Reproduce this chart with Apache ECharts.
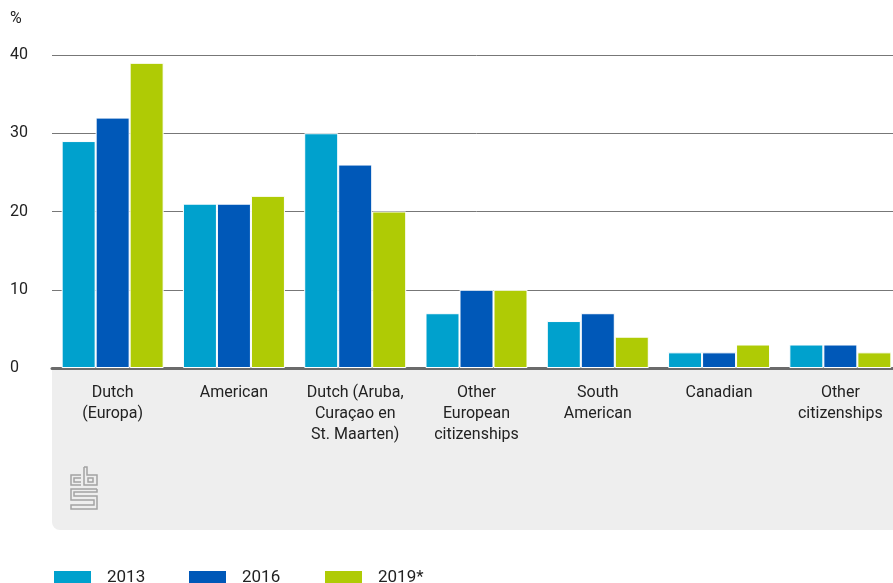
<!DOCTYPE html>
<html>
<head>
<meta charset="utf-8">
<script src="https://cdn.jsdelivr.net/npm/echarts@6/dist/echarts.min.js"></script>
<style>
html,body{margin:0;padding:0;background:#fff;overflow:hidden;width:893px;height:583px;}
#chart{width:901px;height:583px;}
</style>
</head>
<body>
<div id="chart"></div>
<script>
const categories = ["Dutch\n(Europa)", "American", "Dutch (Aruba,\nCuraçao en\nSt. Maarten)", "Other\nEuropean\ncitizenships", "South\nAmerican", "Canadian", "Other\ncitizenships"];
const seriesNames = ["2013", "2016", "2019*"];
const values2013 = [29, 21, 30, 7, 6, 2, 3];
const values2016 = [32, 21, 26, 10, 7, 2, 3];
const values2019 = [39, 22, 20, 10, 4, 3, 2];
const yTicks = [0, 10, 20, 30, 40];

const colors = ["#00a1cd", "#0058b8", "#afcb05"];
const font = "Roboto, 'Liberation Sans', sans-serif";
const chart = echarts.init(document.getElementById('chart'));

function legendFor(i, left) {
  return {
    data: [seriesNames[i]], left: left, top: 569, padding: 0, itemWidth: 39, itemHeight: 15,
    itemGap: 0, icon: 'rect', selectedMode: false,
    textStyle: { fontFamily: font, fontSize: 17, color: '#222', padding: [4, 0, 0, 10] }
  };
}

const logoStyle = { stroke: '#a3a3a3', lineWidth: 1.5, fill: null };
chart.setOption({
  animation: false,
  color: colors,
  grid: { left: 52, right: 0, top: 55, bottom: 215, containLabel: false },
  legend: [legendFor(0, 52), legendFor(1, 187), legendFor(2, 323)],
  graphic: [
    { type: 'rect', z: -10, shape: { x: 52, y: 368, width: 849, height: 162, r: [0, 0, 0, 8] }, style: { fill: '#eeeeee' } },
    { type: 'text', left: 10, top: 11, style: { text: '%', font: '16px ' + font, fill: '#222' } },
    { type: 'polyline', shape: { points: [[81, 475], [71, 475], [71, 485], [81, 485]] }, style: logoStyle },
    { type: 'polyline', shape: { points: [[81, 478], [74, 478], [74, 482], [81, 482]] }, style: logoStyle },
    { type: 'polyline', shape: { points: [[84, 467], [84, 485], [97, 485], [97, 475], [87, 475], [87, 467], [84, 467]] }, style: logoStyle },
    { type: 'rect', shape: { x: 88, y: 478, width: 5, height: 4 }, style: logoStyle },
    { type: 'polyline', shape: { points: [[97, 489], [71, 489], [71, 500], [94, 500], [94, 505], [71, 505], [71, 509], [97, 509], [97, 496], [74, 496], [74, 492], [97, 492], [97, 489]] }, style: logoStyle }
  ],
  xAxis: {
    type: 'category', data: categories,
    axisLine: { show: true, lineStyle: { color: '#6b6b6b', width: 3 } },
    axisTick: { show: false },
    axisLabel: { interval: 0, margin: 14, fontFamily: font, fontSize: 16, lineHeight: 21, color: '#222', align: 'center' }
  },
  yAxis: {
    type: 'value', min: 0, max: 40, interval: 10,
    axisLine: { show: false }, axisTick: { show: false },
    splitLine: { lineStyle: { color: '#777', width: 1 } },
    axisLabel: { margin: 42, align: 'left', fontFamily: font, fontSize: 16, color: '#222',
      formatter: v => yTicks.includes(v) ? String(v) : '' }
  },
  series: [values2013, values2016, values2019].map((d, i) => ({
    name: seriesNames[i], type: 'bar', data: d, barWidth: 34, barGap: '0%',
    itemStyle: { color: colors[i], borderColor: '#fff', borderWidth: 1 }
  }))
});
</script>
</body>
</html>
